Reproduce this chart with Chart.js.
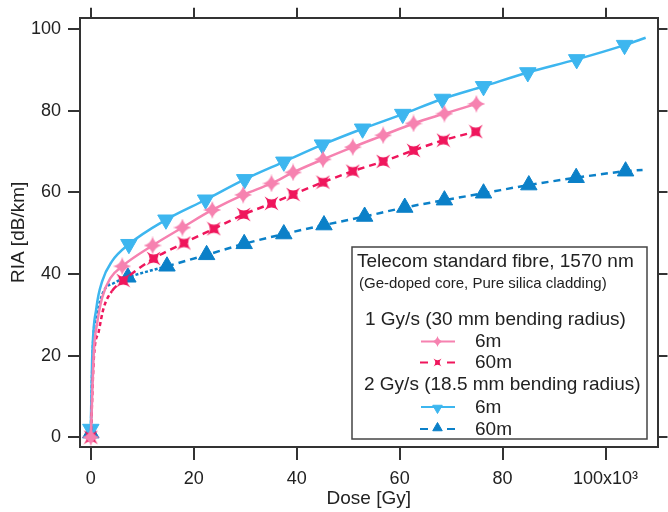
<!DOCTYPE html>
<html>
<head>
<meta charset="utf-8">
<script src="https://cdn.jsdelivr.net/npm/chart.js@4.4.1/dist/chart.umd.min.js"></script>
<style>
html, body { margin: 0; padding: 0; background: #fff; }
</style>
</head>
<body>
<canvas id="c" width="668" height="512"></canvas>
<script>
// axis ticks
const xTicks = [0, 20, 40, 60, 80, 100];
const yTicks = [0, 20, 40, 60, 80, 100];

// 1 Gy/s, 6m (marker points)
const doseA6 = [0, 6.1, 12.0, 17.8, 23.6, 29.6, 35.1, 39.3, 45.1, 50.9, 56.8, 62.7, 68.7, 74.9];
const riaA6 = [0, 41.9, 47.0, 51.4, 55.7, 59.4, 62.2, 64.9, 68.1, 71.1, 74.0, 76.9, 79.3, 81.7];
// line only points (initial rise)
const lineDoseA6 = [0.6, 1.2, 2.2, 3.8];
const lineRiaA6 = [21.2, 27.7, 34.2, 39.0];

// 1 Gy/s, 60m
const doseA60 = [0, 6.3, 12.2, 18.1, 23.9, 29.7, 35.1, 39.3, 45.1, 50.9, 56.8, 62.7, 68.5, 74.8];
const riaA60 = [0, 38.4, 43.8, 47.6, 51.1, 54.6, 57.3, 59.5, 62.5, 65.2, 67.6, 70.3, 72.8, 74.9];
const lineDoseA60 = [0.6, 1.55, 2.5, 4.1];
const lineRiaA60 = [19.6, 26.0, 31.7, 35.8];

// 2 Gy/s, 6m
const doseB6 = [0, 7.4, 14.6, 22.3, 29.9, 37.5, 45.0, 52.8, 60.6, 68.3, 76.3, 84.9, 94.4, 103.7];
const riaB6 = [2, 47.3, 53.3, 58.2, 63.2, 67.5, 71.7, 75.6, 79.2, 82.9, 86.0, 89.4, 92.6, 96.1];
const lineDoseB6 = [0.25, 1.1, 2.2, 4.1, 107.8];
const lineRiaB6 = [18.8, 31.8, 38.2, 43.1, 97.9];

// 2 Gy/s, 60m
const doseB60 = [0, 7.2, 14.8, 22.5, 29.8, 37.5, 45.3, 53.2, 61.0, 68.7, 76.3, 85.1, 94.3, 103.9];
const riaB60 = [1, 39.2, 41.9, 44.7, 47.4, 49.8, 52.0, 54.1, 56.3, 58.1, 59.8, 61.8, 63.6, 65.2];
const lineDoseB60 = [0.4, 1.2, 2.5, 4.5, 107.2];
const lineRiaB60 = [22.0, 30.1, 35.8, 37.8, 65.5];

// legend texts
const legendTitle = 'Telecom standard fibre, 1570 nm';
const legendNote = '(Ge-doped core, Pure silica cladding)';
const groupLabels = ['1 Gy/s (30 mm bending radius)', '2 Gy/s (18.5 mm bending radius)'];
const seriesLabels = ['6m', '60m', '6m', '60m'];

const FONT = 'Liberation Sans, Arial, sans-serif';
Chart.defaults.font.family = FONT;
Chart.defaults.color = '#222';

const colA6 = '#f682b0';
const colA60 = '#ef165c';
const colB6 = '#3db6ef';
const colB60 = '#0b80c8';

function makeSeries(dose, ria, lineDose, lineRia) {
  const pts = dose.map((x, i) => ({ x: x, y: ria[i], m: true }))
    .concat(lineDose.map((x, i) => ({ x: x, y: lineRia[i], m: false })));
  pts.sort((a, b) => a.x - b.x);
  return pts;
}

// 4 pointed star, points up/down/left/right
function sparkle(size, color) {
  const c = document.createElement('canvas');
  c.width = size; c.height = size;
  const g = c.getContext('2d');
  const h = size / 2, k = size * 0.1;
  g.translate(h, h);
  g.fillStyle = color;
  g.beginPath();
  g.moveTo(0, -h);
  g.quadraticCurveTo(k, -k, h, 0);
  g.quadraticCurveTo(k, k, 0, h);
  g.quadraticCurveTo(-k, k, -h, 0);
  g.quadraticCurveTo(-k, -k, 0, -h);
  g.fill();
  return c;
}

// square with concave sides, points on the diagonals
function concaveSquare(size, color) {
  const c = document.createElement('canvas');
  c.width = size; c.height = size;
  const g = c.getContext('2d');
  const a = size / 2 - 0.5, k = a * 0.15;
  g.translate(size / 2, size / 2);
  g.fillStyle = color;
  g.beginPath();
  g.moveTo(-a, -a);
  g.quadraticCurveTo(0, -k, a, -a);
  g.quadraticCurveTo(k, 0, a, a);
  g.quadraticCurveTo(0, k, -a, a);
  g.quadraticCurveTo(-k, 0, -a, -a);
  g.fill();
  return c;
}

const starA6 = sparkle(18, colA6);
const sqA60 = concaveSquare(15, colA60);
const starA6small = sparkle(11, colA6);
const sqA60small = concaveSquare(9, colA60);

const markerR = (r) => (ctx) => (ctx.raw && ctx.raw.m ? r : 0);

const datasets = [
  {
    label: '1 Gy/s 6m',
    data: makeSeries(doseA6, riaA6, lineDoseA6, lineRiaA6),
    borderColor: colA6, backgroundColor: colA6, borderWidth: 2.5,
    pointStyle: starA6, pointRadius: markerR(8)
  },
  {
    label: '1 Gy/s 60m',
    data: makeSeries(doseA60, riaA60, lineDoseA60, lineRiaA60),
    borderColor: colA60, backgroundColor: colA60, borderWidth: 2.5,
    segment: { borderDash: (ctx) => (ctx.p1.parsed.x < 6 ? [4, 3] : [7, 5]) },
    pointStyle: sqA60, pointRadius: markerR(8)
  },
  {
    label: '2 Gy/s 6m',
    data: makeSeries(doseB6, riaB6, lineDoseB6, lineRiaB6),
    borderColor: colB6, backgroundColor: colB6, borderWidth: 2.5,
    pointStyle: 'triangle', pointRotation: 180, pointRadius: markerR(9.5),
    pointBackgroundColor: colB6, pointBorderColor: colB6, pointBorderWidth: 1
  },
  {
    label: '2 Gy/s 60m',
    data: makeSeries(doseB60, riaB60, lineDoseB60, lineRiaB60),
    borderColor: colB60, backgroundColor: colB60, borderWidth: 2.5,
    segment: { borderDash: (ctx) => (ctx.p1.parsed.x <= 15 ? [3, 2] : [7, 5]) },
    pointStyle: 'triangle', pointRadius: markerR(9.5),
    pointBackgroundColor: colB60, pointBorderColor: colB60, pointBorderWidth: 1
  }
];

// draw the boxed legend on top of the plot
const boxLegend = {
  id: 'boxLegend',
  afterDraw(chart) {
    const ctx = chart.ctx;
    const ds = chart.data.datasets;
    ctx.save();
    ctx.fillStyle = '#fff';
    ctx.fillRect(352, 247, 295, 192);
    ctx.strokeStyle = '#444';
    ctx.lineWidth = 1.5;
    ctx.strokeRect(352, 247, 295, 192);

    ctx.fillStyle = '#222';
    ctx.textBaseline = 'alphabetic';
    ctx.textAlign = 'left';
    ctx.font = '19px ' + FONT;
    ctx.fillText(legendTitle, 357, 266.5);
    ctx.font = '15px ' + FONT;
    ctx.fillText(legendNote, 359, 287.5);
    ctx.font = '19px ' + FONT;
    ctx.fillText(groupLabels[0], 365, 325);
    ctx.fillText(groupLabels[1], 364, 390);

    const rows = [341.5, 362.5, 407, 429];
    rows.forEach((y, i) => {
      const d = ds[i];
      ctx.strokeStyle = d.borderColor;
      ctx.lineWidth = 2;
      ctx.beginPath();
      if (i % 2 === 0) {
        ctx.moveTo(421, y); ctx.lineTo(455, y);
      } else {
        ctx.moveTo(420, y); ctx.lineTo(428, y);
        ctx.moveTo(447, y); ctx.lineTo(455, y);
      }
      ctx.stroke();
      if (i === 0) ctx.drawImage(starA6small, 437.5 - 5.5, y - 5.5);
      if (i === 1) ctx.drawImage(sqA60small, 437.5 - 4.5, y - 4.5);
      if (i >= 2) {
        ctx.fillStyle = d.borderColor;
        ctx.strokeStyle = d.borderColor;
        ctx.lineWidth = 1;
        Chart.helpers.drawPoint(ctx, { pointStyle: 'triangle', rotation: i === 2 ? 180 : 0, radius: 5.5, borderWidth: 1 }, 437.5, y + (i === 2 ? 1 : -1));
      }
      ctx.fillStyle = '#222';
      ctx.font = '19px ' + FONT;
      ctx.fillText(seriesLabels[i], 475, y + 5.5);
    });
    ctx.restore();
  }
};

const setTicks = (vals) => (scale) => { scale.ticks = vals.map((v) => ({ value: v })); };
const axisGrid = (len) => ({ drawOnChartArea: false, drawTicks: true, tickLength: len, lineWidth: 2, tickWidth: 2, tickColor: '#333' });
const axisBorder = { display: true, color: '#333', width: 2 };

new Chart(document.getElementById('c'), {
  type: 'line',
  data: { datasets: datasets },
  plugins: [boxLegend],
  options: {
    responsive: false,
    animation: false,
    events: [],
    devicePixelRatio: 1,
    layout: { padding: 0 },
    elements: { line: { cubicInterpolationMode: 'monotone', fill: false } },
    plugins: { legend: { display: false }, tooltip: { enabled: false } },
    scales: {
      x: {
        type: 'linear', position: 'bottom', min: -2.1, max: 110.1,
        afterBuildTicks: setTicks(xTicks),
        afterFit: (s) => { s.height = 65; },
        grid: axisGrid(13), border: axisBorder,
        ticks: { font: { size: 18 }, color: '#222', padding: 8, maxRotation: 0,
          callback: (v) => (v === 100 ? '100x10\u00b3' : v) },
        title: { display: true, text: 'Dose [Gy]', font: { size: 19 }, color: '#222', padding: { top: 0, bottom: 2 } }
      },
      xTop: {
        type: 'linear', position: 'top', min: -2.1, max: 110.1,
        afterBuildTicks: setTicks(xTicks),
        afterFit: (s) => { s.height = 15; },
        grid: axisGrid(10), border: axisBorder,
        ticks: { display: false }
      },
      y: {
        type: 'linear', position: 'left', min: -2.4, max: 102.8,
        afterBuildTicks: setTicks(yTicks),
        afterFit: (s) => { s.width = 80; },
        grid: axisGrid(12), border: axisBorder,
        ticks: { font: { size: 18 }, color: '#222', padding: 7 },
        title: { display: true, text: 'RIA [dB/km]', font: { size: 19 }, color: '#222', padding: { top: 7, bottom: 0 } }
      },
      yRight: {
        type: 'linear', position: 'right', min: -2.4, max: 102.8,
        afterBuildTicks: setTicks(yTicks),
        afterFit: (s) => { s.width = 10; },
        grid: axisGrid(10), border: axisBorder,
        ticks: { display: false }
      }
    }
  }
});
</script>
</body>
</html>
